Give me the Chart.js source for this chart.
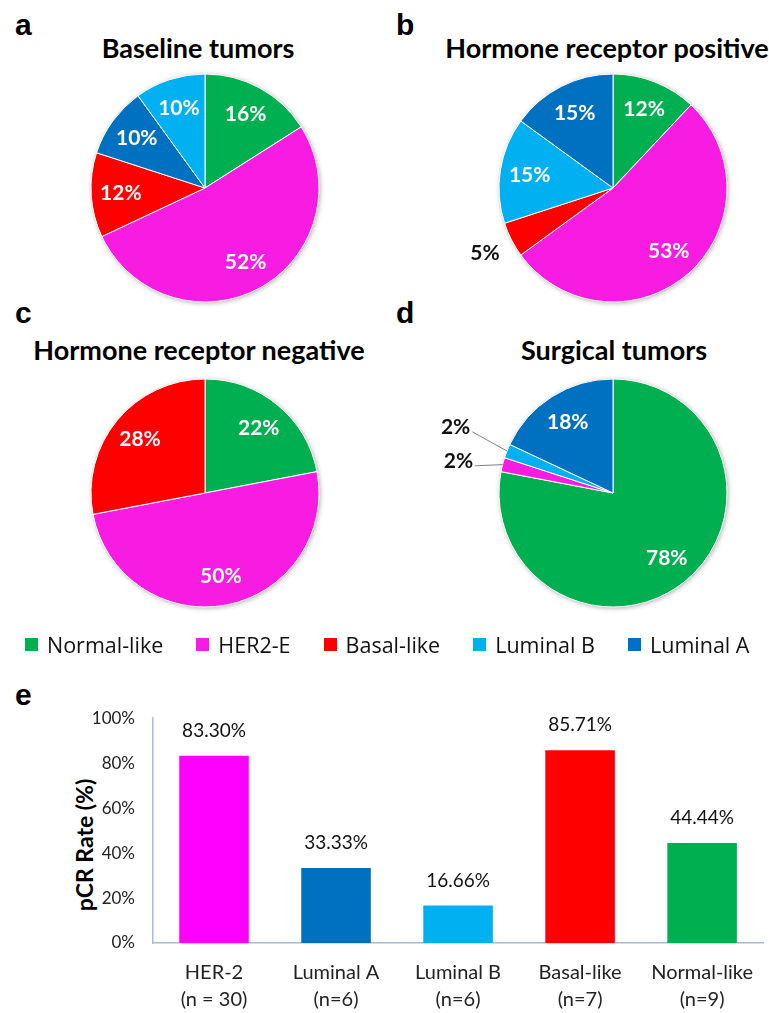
<!DOCTYPE html>
<html>
<head>
<meta charset="utf-8">
<script src="https://cdn.jsdelivr.net/npm/chart.js@4.4.1/dist/chart.umd.min.js"></script>
<style>
  html, body { margin: 0; padding: 0; background: #fff; }
  body { width: 769px; height: 1013px; position: relative; overflow: hidden; font-family: "Liberation Sans", Arial, sans-serif; }
  .abs { position: absolute; }
  .letter { font-family: "Liberation Sans", Arial, sans-serif; font-weight: bold; font-size: 30px; color: #000; line-height: 30px; }
  .ptitle { font-family: "Lato", "Liberation Sans", sans-serif; font-weight: bold; font-size: 27px; color: #000; text-align: center; white-space: nowrap; line-height: 30px; }
  #legend { position: absolute; left: 25px; top: 631px; height: 26px; display: flex; align-items: center; font-family: "Open Sans", "Liberation Sans", sans-serif; font-size: 21.5px; color: #111; white-space: nowrap; }
  .li { display: flex; align-items: center; margin-right: 33px; }
  .sw { width: 13px; height: 13px; margin-right: 9px; }
  #ytitle { position: absolute; left: 84px; top: 845px; transform: translate(-50%, -50%) rotate(-90deg); font-family: "Lato", "Liberation Sans", sans-serif; font-weight: bold; font-size: 23px; white-space: nowrap; color: #000; }
  canvas { position: absolute; }
</style>
</head>
<body>
<div class="abs letter" style="left:15px;top:10px;">a</div>
<div class="abs letter" style="left:396px;top:10px;">b</div>
<div class="abs letter" style="left:15px;top:298px;">c</div>
<div class="abs letter" style="left:396px;top:298px;">d</div>
<div class="abs letter" style="left:15px;top:680px;">e</div>

<div class="abs ptitle" style="left:-2px;width:400px;top:33px;">Baseline tumors</div>
<div class="abs ptitle" style="left:407px;width:400px;top:33px;">Hormone receptor positive</div>
<div class="abs ptitle" style="left:-1px;width:400px;top:335px;">Hormone receptor negative</div>
<div class="abs ptitle" style="left:414px;width:400px;top:335px;">Surgical tumors</div>

<canvas id="pa" style="left:0px;top:0px;" width="384" height="320"></canvas>
<canvas id="pb" style="left:384px;top:0px;" width="385" height="320"></canvas>
<canvas id="pc" style="left:0px;top:300px;" width="384" height="320"></canvas>
<canvas id="pd" style="left:384px;top:300px;" width="385" height="320"></canvas>

<div id="legend"></div>
<div id="ytitle">pCR Rate (%)</div>
<canvas id="bar" style="left:0px;top:690px;" width="769" height="323"></canvas>

<script>
// ---------- DATA ----------
const legendCategories = ["Normal-like", "HER2-E", "Basal-like", "Luminal B", "Luminal A"];

const baselineLabels = ["Normal-like", "HER2-E", "Basal-like", "Luminal A", "Luminal B"];
const baselineValues = [16, 52, 12, 10, 10];

const hrPositiveLabels = ["Normal-like", "HER2-E", "Basal-like", "Luminal B", "Luminal A"];
const hrPositiveValues = [12, 53, 5, 15, 15];

const hrNegativeLabels = ["Normal-like", "HER2-E", "Basal-like"];
const hrNegativeValues = [22, 50, 28];

const surgicalLabels = ["Normal-like", "HER2-E", "Luminal B", "Luminal A"];
const surgicalValues = [78, 2, 2, 18];

const barCategories = [["HER-2", "(n = 30)"], ["Luminal A", "(n=6)"], ["Luminal B", "(n=6)"], ["Basal-like", "(n=7)"], ["Normal-like", "(n=9)"]];
const barValues = [83.30, 33.33, 16.66, 85.71, 44.44];
const yTickValues = [0, 20, 40, 60, 80, 100];

// ---------- STYLES ----------
const pieColors = {
  "Normal-like": "#00B050",
  "HER2-E": "#F81BE2",
  "Basal-like": "#FF0000",
  "Luminal B": "#00B0F0",
  "Luminal A": "#0070C0"
};
const barColors = ["#FF00FF", "#0070C0", "#00B0F0", "#FF0000", "#00B050"];

// legend (HTML)
const legendEl = document.getElementById('legend');
legendCategories.forEach(c => {
  const d = document.createElement('div'); d.className = 'li';
  const s = document.createElement('div'); s.className = 'sw'; s.style.background = pieColors[c];
  const t = document.createElement('span'); t.textContent = c;
  d.appendChild(s); d.appendChild(t); legendEl.appendChild(d);
});

// pie shadow plugin
const pieShadow = {
  id: 'pieShadow',
  beforeDatasetsDraw(chart) {
    const arc = chart.getDatasetMeta(0).data[0];
    if (!arc) return;
    const ctx = chart.ctx;
    ctx.save();
    ctx.shadowColor = 'rgba(0,0,0,0.35)';
    ctx.shadowBlur = 5;
    ctx.shadowOffsetX = 1;
    ctx.shadowOffsetY = 1;
    ctx.fillStyle = '#ffffff';
    ctx.beginPath();
    ctx.arc(arc.x, arc.y, arc.outerRadius, 0, Math.PI * 2);
    ctx.fill();
    ctx.restore();
  }
};

// pie label plugin
const pieLabels = {
  id: 'pieLabels',
  afterDatasetsDraw(chart, args, opts) {
    const ctx = chart.ctx;
    const meta = chart.getDatasetMeta(0);
    const vals = chart.data.datasets[0].data;
    const outside = [];
    ctx.save();
    ctx.font = 'bold 21px Lato, "Liberation Sans", sans-serif';
    ctx.textAlign = 'center';
    ctx.textBaseline = 'middle';
    meta.data.forEach((arc, i) => {
      const v = vals[i];
      const mid = (arc.startAngle + arc.endAngle) / 2;
      const r = arc.outerRadius;
      if (v >= 6) {
        ctx.fillStyle = '#ffffff';
        ctx.fillText(v + '%', arc.x + Math.cos(mid) * r * 0.74, arc.y + Math.sin(mid) * r * 0.74);
      } else {
        const f = opts.outsideFactor || 1.23;
        outside.push({
          text: v + '%',
          x: arc.x + Math.cos(mid) * r * f,
          y: arc.y + Math.sin(mid) * r * f,
          ex: arc.x + Math.cos(mid) * r,
          ey: arc.y + Math.sin(mid) * r
        });
      }
    });
    // spread overlapping outside labels vertically
    outside.sort((a, b) => a.y - b.y);
    const minGap = 34;
    for (let k = 1; k < outside.length; k++) {
      const gap = outside[k].y - outside[k - 1].y;
      if (gap < minGap) {
        const push = (minGap - gap) / 2;
        outside[k - 1].y -= push;
        outside[k - 1].x -= 9;
        outside[k].y += push;
      }
    }
    outside.forEach(o => {
      const w = ctx.measureText(o.text).width;
      if (opts.leader) {
        ctx.strokeStyle = '#808080';
        ctx.lineWidth = 1;
        ctx.beginPath();
        ctx.moveTo(o.x + w / 2 + 2, o.y + 5);
        ctx.lineTo(o.ex, o.ey);
        ctx.stroke();
      }
      ctx.fillStyle = '#111111';
      ctx.fillText(o.text, o.x, o.y);
    });
    ctx.restore();
  }
};

function makePie(id, labels, values, pad, labelOpts) {
  new Chart(document.getElementById(id), {
    type: 'pie',
    data: {
      labels: labels,
      datasets: [{
        data: values,
        backgroundColor: labels.map(l => pieColors[l]),
        borderColor: '#ffffff',
        borderWidth: 1
      }]
    },
    options: {
      responsive: false,
      animation: false,
      layout: { padding: pad },
      plugins: {
        legend: { display: false },
        tooltip: { enabled: false },
        pieLabels: labelOpts || {}
      }
    },
    plugins: [pieShadow, pieLabels]
  });
}

// chart areas sized to give radius ~114 around the reference centres
makePie('pa', baselineLabels, baselineValues, { left: 90.5, right: 64.5, top: 73.5, bottom: 17.5 });
makePie('pb', hrPositiveLabels, hrPositiveValues, { left: 114.5, right: 41.5, top: 73.5, bottom: 17.5 }, { outsideFactor: 1.26, leader: false });
makePie('pc', hrNegativeLabels, hrNegativeValues, { left: 90.5, right: 64.5, top: 78.5, bottom: 12.5 });
makePie('pd', surgicalLabels, surgicalValues, { left: 114.5, right: 41.5, top: 78.5, bottom: 12.5 }, { outsideFactor: 1.4, leader: true });

// bar value labels
const barValueLabels = {
  id: 'barValueLabels',
  afterDatasetsDraw(chart) {
    const ctx = chart.ctx;
    const meta = chart.getDatasetMeta(0);
    ctx.save();
    ctx.font = '19px Lato, "Liberation Sans", sans-serif';
    ctx.fillStyle = '#111';
    ctx.textAlign = 'center';
    ctx.textBaseline = 'middle';
    meta.data.forEach((bar, i) => {
      ctx.fillText(barValues[i].toFixed(2) + '%', bar.x, bar.y - 25);
    });
    ctx.restore();
  }
};

new Chart(document.getElementById('bar'), {
  type: 'bar',
  data: {
    labels: barCategories,
    datasets: [{
      data: barValues,
      backgroundColor: barColors,
      borderWidth: 0,
      barPercentage: 0.57,
      categoryPercentage: 1.0
    }]
  },
  options: {
    responsive: false,
    animation: false,
    layout: { padding: { top: 23, left: 0, right: 0, bottom: 0 } },
    plugins: { legend: { display: false }, tooltip: { enabled: false } },
    scales: {
      y: {
        min: 0, max: 100,
        afterFit(scale) { scale.width = 153; },
        afterBuildTicks(scale) { scale.ticks = yTickValues.map(v => ({ value: v })); },
        grid: { display: false, drawTicks: false },
        border: { display: true, color: '#A3BCE0', width: 1.5 },
        ticks: {
          padding: 18,
          color: '#222',
          font: { family: 'Lato, "Liberation Sans", sans-serif', size: 17 },
          callback: v => v + '%'
        }
      },
      x: {
        afterFit(scale) { scale.height = 70; },
        grid: { display: false, drawTicks: false },
        border: { display: true, color: '#A9B9D0', width: 1.5 },
        ticks: {
          padding: 16,
          color: '#222',
          maxRotation: 0,
          autoSkip: false,
          font: { family: 'Lato, "Liberation Sans", sans-serif', size: 20, lineHeight: 1.35 }
        }
      }
    }
  },
  plugins: [barValueLabels]
});
</script>
</body>
</html>
